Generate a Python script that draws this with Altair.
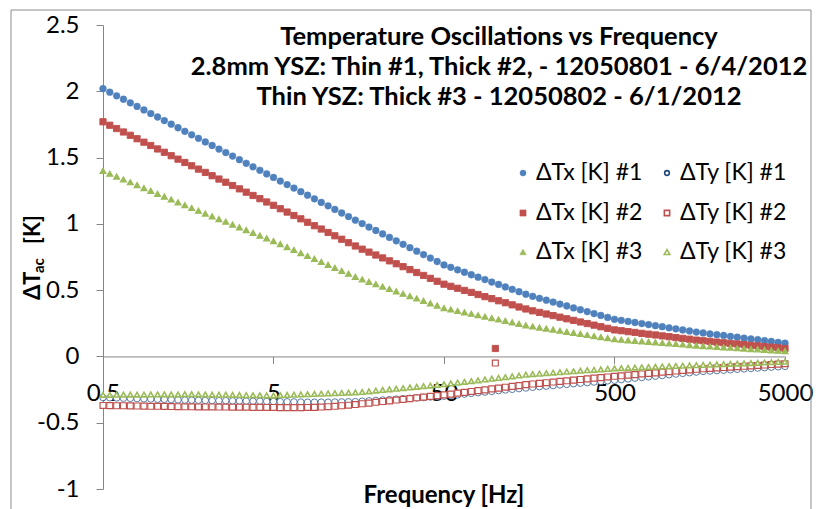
import altair as alt
import pandas as pd

FREQ = [0.5, 0.548, 0.601, 0.659, 0.723, 0.792, 0.869, 0.953, 1.045, 1.145,
        1.256, 1.377, 1.51, 1.656, 1.815, 1.991, 2.183, 2.393, 2.624, 2.877,
        3.155, 3.459, 3.793, 4.159, 4.56,
        5.0, 5.48, 6.01, 6.59, 7.23, 7.92, 8.69, 9.53, 10.45, 11.45,
        12.56, 13.77, 15.1, 16.56, 18.15, 19.91, 21.83, 23.93, 26.24, 28.77,
        31.55, 34.59, 37.93, 41.59, 45.6,
        50, 54.8, 60.1, 65.9, 72.3, 79.2, 86.9, 95.3, 104.5, 114.5,
        125.6, 137.7, 151, 165.6, 181.5, 199.1, 218.3, 239.3, 262.4, 287.7,
        315.5, 345.9, 379.3, 415.9, 456,
        500, 548, 601, 659, 723, 792, 869, 953, 1045, 1145,
        1256, 1377, 1510, 1656, 1815, 1991, 2183, 2393, 2624, 2877,
        3155, 3459, 3793, 4159, 4560, 5000]

TX1 = [2.020, 1.993, 1.966, 1.940, 1.913, 1.886, 1.859, 1.832, 1.806, 1.779,
       1.752, 1.725, 1.698, 1.672, 1.645, 1.618, 1.591, 1.564, 1.538, 1.511,
       1.484, 1.457, 1.430, 1.404, 1.377, 1.350, 1.323, 1.296, 1.270, 1.243,
       1.216, 1.189, 1.162, 1.136, 1.109, 1.082, 1.055, 1.028, 1.002, 0.976,
       0.950, 0.924, 0.898, 0.872, 0.846, 0.820, 0.794, 0.768, 0.742, 0.716,
       0.690, 0.672, 0.653, 0.635, 0.616, 0.598, 0.580, 0.561, 0.543, 0.524,
       0.506, 0.488, 0.469, 0.453, 0.438, 0.424, 0.410, 0.395, 0.381, 0.366,
       0.352, 0.338, 0.323, 0.309, 0.294, 0.280, 0.272, 0.264, 0.256, 0.248,
       0.240, 0.232, 0.224, 0.216, 0.208, 0.200, 0.192, 0.184, 0.177, 0.170,
       0.164, 0.158, 0.151, 0.145, 0.138, 0.132, 0.126, 0.119, 0.113, 0.106,
       0.100]

TY1 = [-0.310, -0.312, -0.313, -0.315, -0.316, -0.318, -0.320, -0.321, -0.323, -0.324,
       -0.326, -0.328, -0.329, -0.330, -0.331, -0.332, -0.333, -0.334, -0.334, -0.335,
       -0.336, -0.337, -0.338, -0.338, -0.339, -0.340, -0.341, -0.342, -0.343, -0.344,
       -0.345, -0.345, -0.345, -0.345, -0.344, -0.343, -0.342, -0.341, -0.338, -0.335,
       -0.332, -0.329, -0.326, -0.322, -0.319, -0.316, -0.313, -0.310, -0.306, -0.303,
       -0.300, -0.295, -0.290, -0.284, -0.279, -0.274, -0.269, -0.264, -0.258, -0.253,
       -0.248, -0.243, -0.238, -0.233, -0.228, -0.224, -0.220, -0.215, -0.211, -0.206,
       -0.202, -0.198, -0.193, -0.189, -0.184, -0.180, -0.175, -0.170, -0.164, -0.159,
       -0.154, -0.149, -0.144, -0.138, -0.133, -0.128, -0.123, -0.118, -0.113, -0.110,
       -0.107, -0.104, -0.101, -0.097, -0.094, -0.091, -0.088, -0.085, -0.081, -0.078,
       -0.075]

TX2 = [1.770, 1.744, 1.719, 1.693, 1.668, 1.642, 1.616, 1.591, 1.565, 1.540,
       1.514, 1.488, 1.463, 1.438, 1.413, 1.388, 1.363, 1.338, 1.314, 1.289,
       1.264, 1.239, 1.214, 1.190, 1.165, 1.140, 1.114, 1.089, 1.063, 1.038,
       1.012, 0.986, 0.961, 0.935, 0.910, 0.884, 0.858, 0.833, 0.809, 0.787,
       0.765, 0.743, 0.721, 0.699, 0.677, 0.655, 0.633, 0.611, 0.589, 0.567,
       0.545, 0.529, 0.514, 0.498, 0.483, 0.467, 0.451, 0.436, 0.420, 0.405,
       0.389, 0.373, 0.358, 0.344, 0.332, 0.320, 0.308, 0.296, 0.284, 0.272,
       0.260, 0.248, 0.236, 0.224, 0.212, 0.200, 0.194, 0.187, 0.181, 0.174,
       0.168, 0.162, 0.155, 0.149, 0.142, 0.136, 0.130, 0.123, 0.118, 0.113,
       0.108, 0.103, 0.098, 0.094, 0.089, 0.084, 0.079, 0.074, 0.070, 0.065,
       0.060]

TY2 = [-0.370, -0.371, -0.372, -0.372, -0.373, -0.374, -0.375, -0.376, -0.376, -0.377,
       -0.378, -0.379, -0.380, -0.380, -0.381, -0.381, -0.381, -0.382, -0.382, -0.383,
       -0.383, -0.383, -0.384, -0.384, -0.385, -0.385, -0.386, -0.386, -0.386, -0.386,
       -0.385, -0.384, -0.382, -0.379, -0.376, -0.372, -0.368, -0.363, -0.357, -0.352,
       -0.346, -0.340, -0.335, -0.329, -0.324, -0.318, -0.312, -0.307, -0.301, -0.296,
       -0.290, -0.284, -0.277, -0.271, -0.264, -0.258, -0.252, -0.245, -0.239, -0.232,
       -0.226, -0.220, -0.213, -0.208, -0.203, -0.198, -0.193, -0.188, -0.184, -0.179,
       -0.174, -0.169, -0.164, -0.160, -0.155, -0.150, -0.146, -0.141, -0.137, -0.132,
       -0.128, -0.124, -0.119, -0.115, -0.110, -0.106, -0.102, -0.097, -0.093, -0.090,
       -0.087, -0.084, -0.081, -0.077, -0.074, -0.071, -0.068, -0.065, -0.061, -0.058,
       -0.055]

TX3 = [1.400, 1.378, 1.357, 1.335, 1.314, 1.292, 1.270, 1.249, 1.227, 1.206,
       1.184, 1.162, 1.141, 1.120, 1.099, 1.078, 1.057, 1.036, 1.016, 0.995,
       0.974, 0.953, 0.932, 0.912, 0.891, 0.870, 0.848, 0.825, 0.803, 0.780,
       0.758, 0.736, 0.713, 0.691, 0.668, 0.646, 0.624, 0.601, 0.581, 0.563,
       0.545, 0.527, 0.509, 0.491, 0.473, 0.455, 0.437, 0.419, 0.401, 0.383,
       0.365, 0.354, 0.343, 0.333, 0.322, 0.311, 0.300, 0.289, 0.279, 0.268,
       0.257, 0.246, 0.235, 0.226, 0.218, 0.210, 0.202, 0.194, 0.186, 0.178,
       0.170, 0.162, 0.154, 0.146, 0.138, 0.130, 0.126, 0.122, 0.118, 0.114,
       0.110, 0.106, 0.102, 0.098, 0.094, 0.090, 0.086, 0.082, 0.078, 0.075,
       0.072, 0.069, 0.066, 0.062, 0.059, 0.056, 0.053, 0.050, 0.046, 0.043,
       0.040]

TY3 = [-0.290, -0.290, -0.289, -0.289, -0.288, -0.288, -0.288, -0.287, -0.287, -0.286,
       -0.286, -0.286, -0.285, -0.285, -0.286, -0.287, -0.288, -0.289, -0.289, -0.290,
       -0.291, -0.292, -0.293, -0.293, -0.294, -0.295, -0.293, -0.291, -0.289, -0.287,
       -0.285, -0.283, -0.281, -0.279, -0.277, -0.275, -0.273, -0.271, -0.268, -0.263,
       -0.258, -0.253, -0.248, -0.244, -0.239, -0.234, -0.229, -0.224, -0.220, -0.215,
       -0.210, -0.204, -0.198, -0.192, -0.186, -0.180, -0.174, -0.168, -0.162, -0.156,
       -0.150, -0.144, -0.138, -0.133, -0.130, -0.126, -0.122, -0.119, -0.115, -0.112,
       -0.108, -0.104, -0.101, -0.097, -0.094, -0.090, -0.088, -0.086, -0.084, -0.082,
       -0.080, -0.078, -0.076, -0.074, -0.072, -0.070, -0.068, -0.066, -0.064, -0.062,
       -0.060, -0.058, -0.056, -0.054, -0.052, -0.050, -0.048, -0.046, -0.044, -0.042,
       -0.040]

# odd reading near 100 Hz for sample #2
OUT_FREQ = [100]
OUT_TX2 = [0.06]
OUT_TY2 = [-0.05]

NAMES = ["ΔTx [K] #1", "ΔTy [K] #1", "ΔTx [K] #2", "ΔTy [K] #2", "ΔTx [K] #3", "ΔTy [K] #3"]
TITLE_LINES = ["Temperature Oscillations vs Frequency",
               "2.8mm YSZ: Thin #1, Thick #2, - 12050801 - 6/4/2012",
               "Thin YSZ: Thick #3 - 12050802 - 6/1/2012"]
X_TICKS = [0.5, 5, 50, 500, 5000]
Y_TICKS = [-1, -0.5, 0, 0.5, 1, 1.5, 2, 2.5]

series_vals = [TX1, TY1, TX2, TY2, TX3, TY3]
rows = []
for name, vals in zip(NAMES, series_vals):
    for f, v in zip(FREQ, vals):
        rows.append({"freq": f, "value": v, "series": name})
for f, v in zip(OUT_FREQ, OUT_TX2):
    rows.append({"freq": f, "value": v, "series": NAMES[2]})
for f, v in zip(OUT_FREQ, OUT_TY2):
    rows.append({"freq": f, "value": v, "series": NAMES[3]})
df = pd.DataFrame(rows)

BLUE = "#4F81BD"
NAVY = "#1F497D"
RED = "#C0504D"
GREEN = "#9BBB59"
AXC = "#868686"
FONT = "Lato"

fills = [BLUE, "white", RED, "white", GREEN, "white"]
strokes = [BLUE, NAVY, RED, RED, GREEN, GREEN]
shapes = ["circle", "circle", "square", "square", "triangle-up", "triangle-up"]
sizes = [46, 28, 52, 36, 58, 44]
swidths = [0.5, 1.6, 0.5, 1.6, 0.5, 1.6]

points = alt.Chart(df).mark_point(filled=True, opacity=1).encode(
    x=alt.X("freq:Q",
            scale=alt.Scale(type="log", domain=[0.5, 5000], nice=False),
            axis=alt.Axis(values=X_TICKS, labelExpr="'' + datum.value", title=None,
                          grid=False, offset=-132.57, domainColor=AXC, tickColor=AXC,
                          tickSize=7, labelFont=FONT, labelFontSize=24, labelColor="black",
                          labelPadding=18, labelFlush=False, labelOverlap=False)),
    y=alt.Y("value:Q",
            scale=alt.Scale(domain=[-1, 2.5], nice=False, zero=False),
            axis=alt.Axis(values=Y_TICKS, labelExpr="'' + datum.value", title=None,
                          grid=False, domainColor=AXC, tickColor=AXC, tickSize=7,
                          labelFont=FONT, labelFontSize=24, labelColor="black",
                          labelPadding=17)),
    shape=alt.Shape("series:N", scale=alt.Scale(domain=NAMES, range=shapes), legend=None),
    fill=alt.Fill("series:N", scale=alt.Scale(domain=NAMES, range=fills), legend=None),
    stroke=alt.Stroke("series:N", scale=alt.Scale(domain=NAMES, range=strokes), legend=None),
    size=alt.Size("series:N", scale=alt.Scale(domain=NAMES, range=sizes), legend=None),
    strokeWidth=alt.StrokeWidth("series:N", scale=alt.Scale(domain=NAMES, range=swidths), legend=None),
)


def text_layer(txt, x, y, size=22, angle=0, align="center", weight="bold", baseline="alphabetic"):
    return alt.Chart(pd.DataFrame({"t": [txt]})).mark_text(
        font=FONT, fontSize=size, fontWeight=weight, color="black",
        align=align, baseline=baseline, angle=angle
    ).encode(text="t:N", x=alt.value(x), y=alt.value(y))


title_layers = [
    text_layer(TITLE_LINES[0], 396, 20, size=25.5),
    text_layer(TITLE_LINES[1], 396, 50, size=25.5),
    text_layer(TITLE_LINES[2], 396, 80, size=25.5),
]
xtitle = text_layer("Frequency [Hz]", 341, 478, size=24)
yt1 = text_layer("ΔT", -63, 275, size=22, angle=270, align="left")
yt2 = text_layer("ac", -59, 248, size=15, angle=270, align="left")
yt3 = text_layer("[K]", -63, 219, size=22, angle=270, align="left")

# legend, built from the same series names and styles (2 columns x 3 rows)
LEG_COL_X = [420, 564]
LEG_ROW_Y = [148, 188, 227]
leg_sizes = [36, 22, 38, 28, 42, 32]
legend_layers = []
for i, name in enumerate(NAMES):
    cx = LEG_COL_X[i % 2]
    cy = LEG_ROW_Y[i // 2]
    sym = alt.Chart(pd.DataFrame({"s": [name]})).mark_point(
        shape=shapes[i], filled=True, fill=fills[i], stroke=strokes[i],
        strokeWidth=swidths[i], size=leg_sizes[i], opacity=1
    ).encode(x=alt.value(cx), y=alt.value(cy))
    lab = text_layer(name, cx + 13, cy, size=23, align="left", weight="normal", baseline="middle")
    legend_layers += [sym, lab]

border = alt.Chart(pd.DataFrame({"b": [1]})).mark_rect(
    fill="transparent", stroke="#8c8c8c", strokeWidth=1
).encode(x=alt.value(-92), x2=alt.value(708), y=alt.value(-15), y2=alt.value(520))

chart = alt.layer(border, points, *title_layers, xtitle, yt1, yt2, yt3, *legend_layers).properties(
    width=682, height=464,
    autosize=alt.AutoSizeParams(type="none"),
    padding={"left": 95, "top": 17, "right": 29, "bottom": 20},
    background="white",
).configure_view(stroke=None)

chart.save("out.html", embed_options={"renderer": "svg", "actions": False})
